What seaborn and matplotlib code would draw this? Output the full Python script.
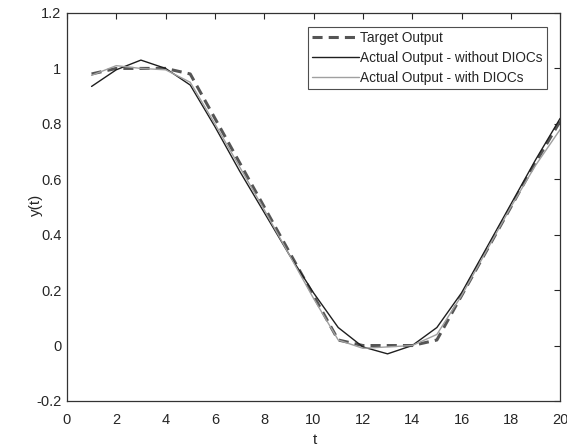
import numpy as np
import pandas as pd
import matplotlib
matplotlib.use("Agg")
import matplotlib.pyplot as plt
import seaborn as sns

# Datos
t = list(range(1, 21))
target = [0.98, 1.0, 1.0, 1.0, 0.98, 0.82, 0.66, 0.5, 0.34, 0.18, 0.02,
          0.0, 0.0, 0.0, 0.02, 0.18, 0.34, 0.5, 0.66, 0.81]
without_dioc = [0.935, 0.995, 1.03, 1.0, 0.94, 0.79, 0.63, 0.48, 0.33, 0.19, 0.065,
                -0.005, -0.03, 0.0, 0.065, 0.19, 0.35, 0.51, 0.67, 0.82]
with_dioc = [0.975, 1.01, 1.0, 0.995, 0.95, 0.8, 0.645, 0.49, 0.33, 0.17, 0.02,
             -0.01, -0.005, 0.0, 0.04, 0.18, 0.34, 0.5, 0.65, 0.78]

df = pd.DataFrame({"t": t, "Target Output": target,
                   "Actual Output - without DIOCs": without_dioc,
                   "Actual Output - with DIOCs": with_dioc})

sns.set_style("white")
plt.rcParams['font.family'] = ['Liberation Sans', 'DejaVu Sans']

fig = plt.figure(figsize=(5.67, 4.48), dpi=100)
ax = fig.add_axes([0.118, 0.105, 0.87, 0.866])

sns.lineplot(data=df, x="t", y="Target Output", ax=ax, color="#555555",
             linewidth=2.2, label="Target Output")
ax.lines[-1].set_linestyle((0, (3.3, 2.0)))
sns.lineplot(data=df, x="t", y="Actual Output - without DIOCs", ax=ax,
             color="#1e1e1e", linewidth=1.0, label="Actual Output - without DIOCs")
sns.lineplot(data=df, x="t", y="Actual Output - with DIOCs", ax=ax,
             color="#a0a0a0", linewidth=1.0, label="Actual Output - with DIOCs")

ax.set_xlim(0, 20)
ax.set_ylim(-0.2, 1.2)
ax.set_xticks(range(0, 21, 2))
ax.set_yticks([-0.2, 0, 0.2, 0.4, 0.6, 0.8, 1.0, 1.2])
ax.set_yticklabels(["-0.2", "0", "0.2", "0.4", "0.6", "0.8", "1", "1.2"])
ax.tick_params(direction="in", top=True, right=True, length=4, width=0.8,
               labelsize=10.5, colors="#262626")
ax.tick_params(axis="x", pad=9)
ax.tick_params(axis="y", pad=4)
ax.set_xlabel("t", fontsize=11)
ax.set_ylabel("y(t)", fontsize=11)
ax.xaxis.set_label_coords(0.503, -0.082)
ax.yaxis.set_label_coords(-0.049, 0.505)
for s in ax.spines.values():
    s.set_color("#333333")
    s.set_linewidth(0.9)

leg = ax.legend(loc="upper right", fontsize=9.8, frameon=True, fancybox=False,
                handlelength=3.5, handletextpad=0.05, borderpad=0.3,
                labelspacing=0.45, borderaxespad=1.0)
leg.get_frame().set_edgecolor("#222222")
leg.get_frame().set_linewidth(0.8)

fig.savefig("out.png", dpi=100)
